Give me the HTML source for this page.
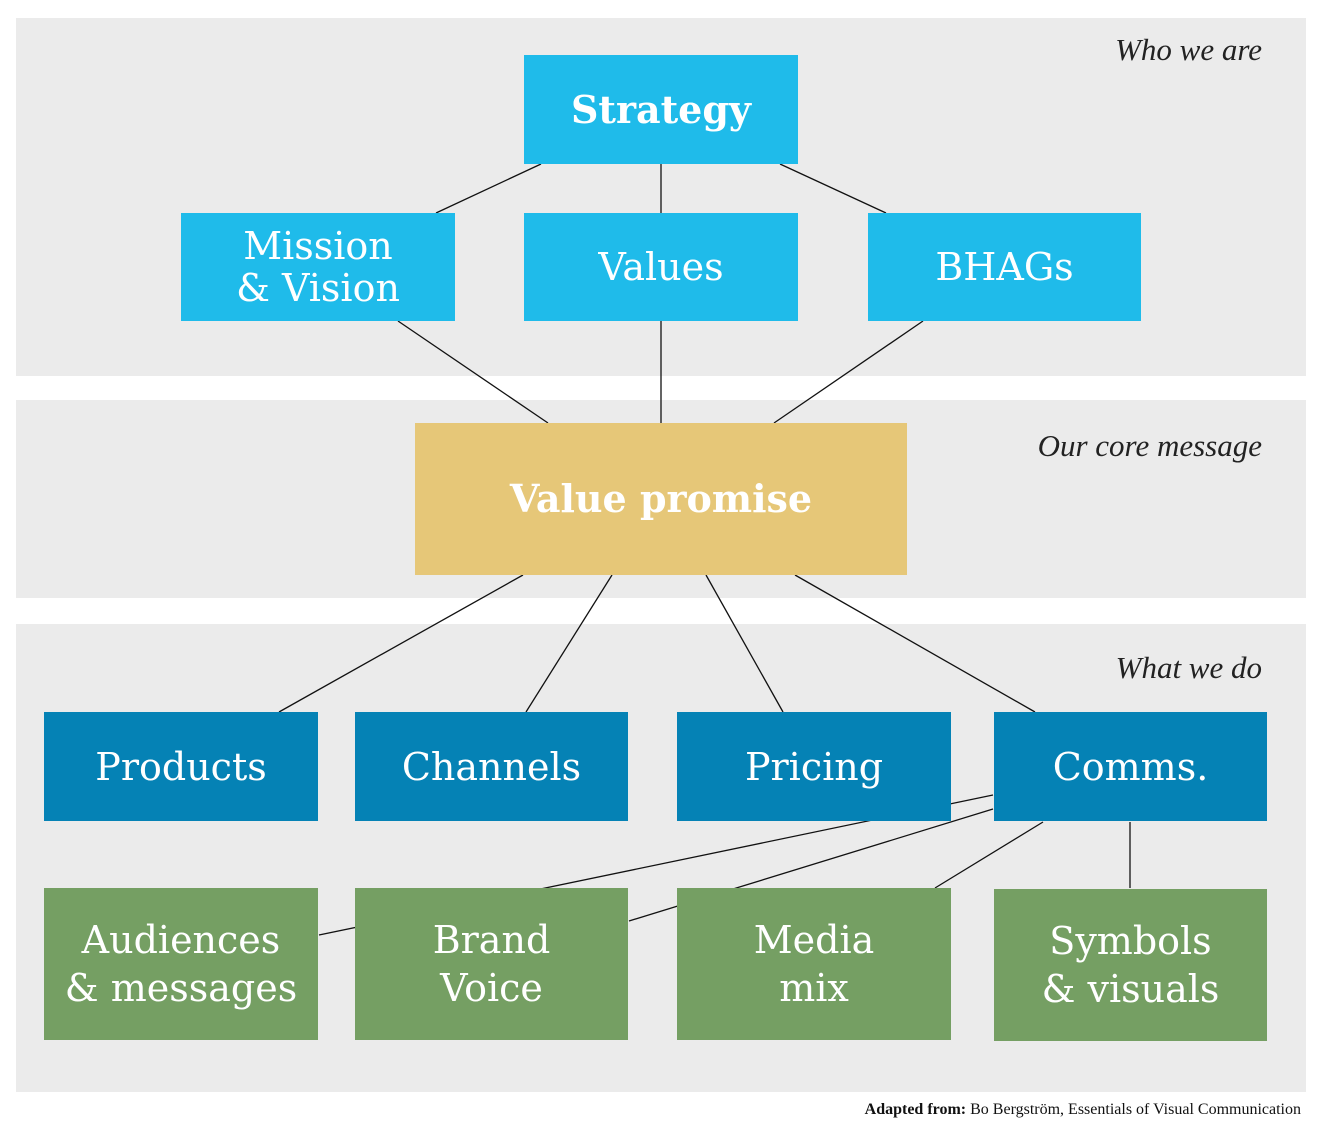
<!DOCTYPE html>
<html><head><meta charset="utf-8"><style>
body{margin:0;width:1324px;height:1132px;background:#fff;position:relative;overflow:hidden;font-family:"DejaVu Serif","Liberation Serif",serif}
.p{position:absolute;background:#ebebeb;left:16px;width:1290px}
.b{position:absolute;display:flex;align-items:center;justify-content:center;text-align:center;color:#fff;font-size:38px;line-height:42px}
.lb{position:absolute;right:62px;font-style:italic;font-size:31px;color:#222;font-family:"Liberation Serif",serif}
svg{position:absolute;left:0;top:0}
</style></head><body>
<div class="p" style="top:18px;height:358px"></div>
<div class="p" style="top:400px;height:198px"></div>
<div class="p" style="top:624px;height:468px"></div>
<div class="lb" style="top:32px">Who we are</div>
<div class="lb" style="top:428px">Our core message</div>
<div class="lb" style="top:650px">What we do</div>
<svg width="1324" height="1132"><g stroke="#111" stroke-width="1.3">
<line x1="541" y1="164" x2="436" y2="213"/><line x1="661" y1="164" x2="661" y2="213"/><line x1="780" y1="164" x2="886" y2="213"/>
<line x1="398" y1="321" x2="548" y2="423"/><line x1="661" y1="321" x2="661" y2="423"/><line x1="923" y1="321" x2="774" y2="423"/>
<line x1="523" y1="575" x2="279" y2="712"/><line x1="612" y1="575" x2="526" y2="712"/><line x1="706" y1="575" x2="783" y2="712"/><line x1="795" y1="575" x2="1035" y2="712"/>
<line x1="993" y1="795" x2="319" y2="935"/><line x1="993" y1="809" x2="629" y2="921"/><line x1="1043" y1="822" x2="935" y2="888"/><line x1="1130" y1="822" x2="1130" y2="888"/>
</g></svg>
<div class="b" style="left:524px;top:55px;width:274px;height:109px;background:#1fbbea;font-weight:bold">Strategy</div>
<div class="b" style="left:181px;top:213px;width:274px;height:108px;background:#1fbbea">Mission<br>&amp; Vision</div>
<div class="b" style="left:524px;top:213px;width:274px;height:108px;background:#1fbbea">Values</div>
<div class="b" style="left:868px;top:213px;width:273px;height:108px;background:#1fbbea">BHAGs</div>
<div class="b" style="left:415px;top:423px;width:492px;height:152px;background:#e6c778;font-weight:bold">Value promise</div>
<div class="b" style="left:44px;top:712px;width:274px;height:109px;background:#0582b5">Products</div>
<div class="b" style="left:355px;top:712px;width:273px;height:109px;background:#0582b5">Channels</div>
<div class="b" style="left:677px;top:712px;width:274px;height:109px;background:#0582b5">Pricing</div>
<div class="b" style="left:994px;top:712px;width:273px;height:109px;background:#0582b5">Comms.</div>
<div class="b" style="left:44px;top:888px;width:274px;height:152px;background:#759f63;line-height:48px">Audiences<br>&amp; messages</div>
<div class="b" style="left:355px;top:888px;width:273px;height:152px;background:#759f63;line-height:48px">Brand<br>Voice</div>
<div class="b" style="left:677px;top:888px;width:274px;height:152px;background:#759f63;line-height:48px">Media<br>mix</div>
<div class="b" style="left:994px;top:889px;width:273px;height:152px;background:#759f63;line-height:48px">Symbols<br>&amp; visuals</div>
<div style="position:absolute;right:23px;top:1101px;font-size:16px;color:#111;font-family:'Liberation Serif',serif"><b>Adapted from:</b> Bo Bergström, Essentials of Visual Communication</div>
</body></html>
